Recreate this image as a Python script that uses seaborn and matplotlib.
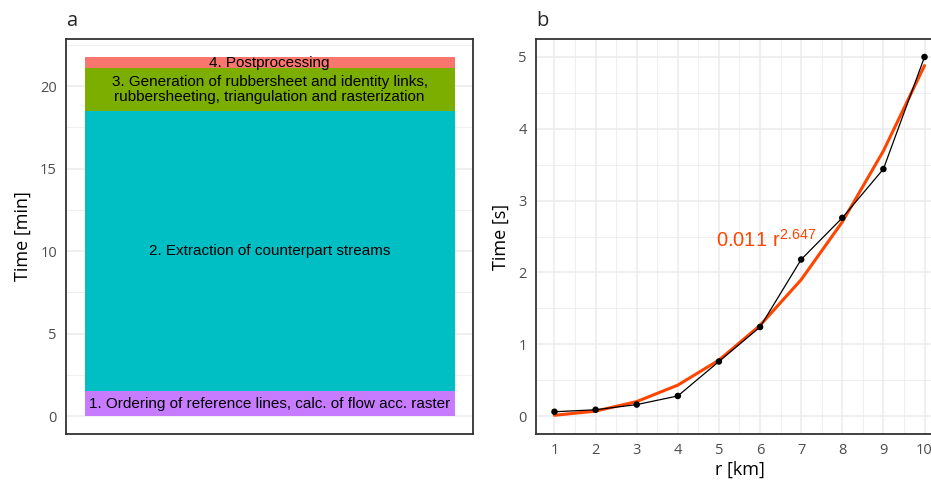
import matplotlib
matplotlib.use("Agg")
import matplotlib.pyplot as plt
from matplotlib.ticker import MultipleLocator
import seaborn as sns
import pandas as pd

# Panel a: processing steps (minutes), stacked bottom to top
step_labels = [
    "1. Ordering of reference lines, calc. of flow acc. raster",
    "2. Extraction of counterpart streams",
    "3. Generation of rubbersheet and identity links,\nrubbersheeting, triangulation and rasterization",
    "4. Postprocessing",
]
step_minutes = [1.50, 16.98, 2.61, 0.67]
step_colors = ["#C77CFF", "#00BFC4", "#7CAE00", "#F8766D"]

# Panel b: run time vs radius
radius_km = [1, 2, 3, 4, 5, 6, 7, 8, 9, 10]
time_s = [0.06, 0.088, 0.16, 0.28, 0.76, 1.24, 2.18, 2.76, 3.44, 5.00]
fit_s = [0.011, 0.069, 0.202, 0.431, 0.779, 1.263, 1.899, 2.703, 3.692, 4.880]
fit_label = r"$0.011\ r^{2.647}$"

sns.set_style("white")
plt.rcParams["font.family"] = ["Open Sans", "DejaVu Sans"]
plt.rcParams["mathtext.default"] = "regular"

fig = plt.figure(figsize=(9.31, 4.83), dpi=100)
ax1 = fig.add_axes([0.0709, 0.1014, 0.4372, 0.8178])
ax2 = fig.add_axes([0.5757, 0.1014, 0.4372, 0.8178])

grid_col = "#EBEBEB"
frame_col = "#333333"


def style_axes(ax):
    for s in ax.spines.values():
        s.set_color(frame_col)
        s.set_linewidth(1.3)
        s.set_visible(True)
    ax.set_axisbelow(True)
    ax.grid(which="major", color=grid_col, lw=1.1)
    ax.grid(which="minor", color=grid_col, lw=0.55)
    ax.tick_params(which="major", length=3.5, width=0.9, color="#333333",
                   labelcolor="#4D4D4D", labelsize=10.5, pad=3)
    ax.tick_params(which="minor", length=0)


# ---- panel a ----
tops = pd.Series(step_minutes).cumsum().tolist()
# draw the tallest layer first so the shorter ones sit on top
for top, col in reversed(list(zip(tops, step_colors))):
    sns.barplot(x=[0], y=[top], color=col, width=1.0, saturation=1,
                ax=ax1, native_scale=True, edgecolor="none", linewidth=0)
style_axes(ax1)
ax1.set_xlim(-0.55, 0.55)
ax1.set_ylim(-0.05 * tops[-1], 1.05 * tops[-1])
ax1.yaxis.set_major_locator(MultipleLocator(5))
ax1.yaxis.set_minor_locator(MultipleLocator(2.5))
ax1.grid(axis="x", which="both", visible=False)
ax1.set_xticks([])
ax1.set_xlabel("")
ax1.set_ylabel("Time [min]", fontsize=13, color="black", labelpad=6)
bottoms = [0] + tops[:-1]
for lab, b, t in zip(step_labels, bottoms, tops):
    ax1.text(0, (b + t) / 2, lab, ha="center", va="center", fontsize=11,
             family="Liberation Sans", linespacing=1.05, color="black")
ax1.text(0.0, 1.02, "a", transform=ax1.transAxes, fontsize=14.5,
         ha="left", va="bottom")

# ---- panel b ----
df = pd.DataFrame({"r": radius_km, "t": time_s, "fit": fit_s})
sns.lineplot(data=df, x="r", y="fit", color="#FF4500", lw=2.2, ax=ax2)
sns.lineplot(data=df, x="r", y="t", color="black", lw=0.9, ax=ax2)
sns.scatterplot(data=df, x="r", y="t", color="black", s=22, ax=ax2,
                edgecolor="none", zorder=5)
style_axes(ax2)
ax2.set_xlim(0.55, 10.45)
ax2.set_ylim(-0.25, 5.25)
ax2.xaxis.set_major_locator(MultipleLocator(1))
ax2.xaxis.set_minor_locator(MultipleLocator(0.5))
ax2.yaxis.set_major_locator(MultipleLocator(1))
ax2.yaxis.set_minor_locator(MultipleLocator(0.5))
ax2.set_xlabel("r [km]", fontsize=13, color="black", labelpad=2)
ax2.set_ylabel("Time [s]", fontsize=13, color="black", labelpad=6)
ax2.text(6.15, 2.45, fit_label, color="#FF4500", fontsize=14.5,
         family="Liberation Sans", ha="center", va="center")
ax2.text(0.0, 1.02, "b", transform=ax2.transAxes, fontsize=14.5,
         ha="left", va="bottom")

fig.savefig("out.png", dpi=100)
